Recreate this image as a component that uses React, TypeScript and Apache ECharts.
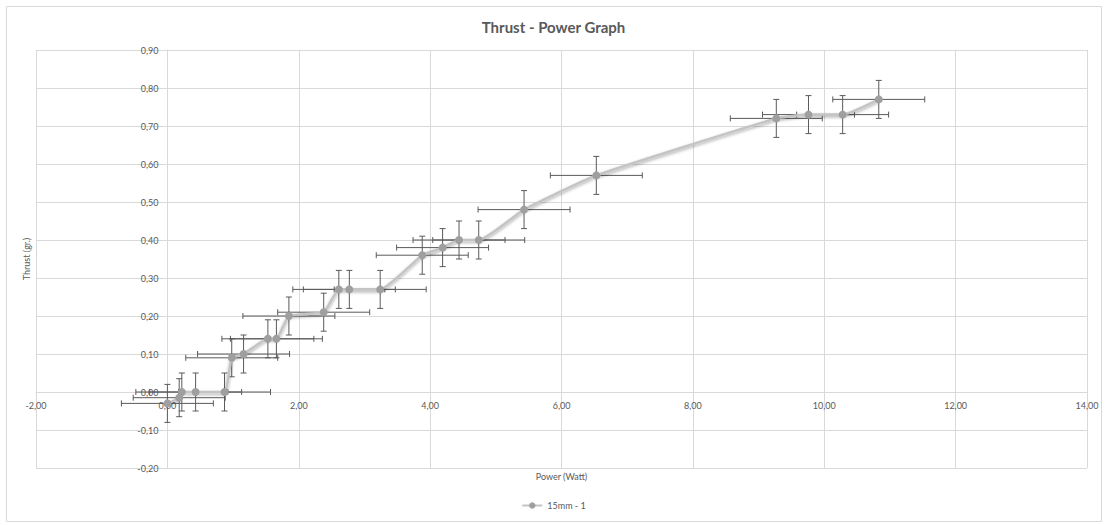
import React, { useEffect, useRef } from "react";
import * as echarts from "echarts";

const seriesName = "15mm - 1";
const powerWatt = [0.0, 0.18, 0.22, 0.43, 0.87, 0.98, 1.16, 1.53, 1.66, 1.85, 2.38, 2.61, 2.77, 3.24, 3.88, 4.19, 4.44, 4.74, 5.43, 6.53, 9.27, 9.76, 10.28, 10.83];
const thrustGr = [-0.03, -0.015, 0.0, 0.0, 0.0, 0.09, 0.1, 0.14, 0.14, 0.2, 0.21, 0.27, 0.27, 0.27, 0.36, 0.38, 0.4, 0.4, 0.48, 0.57, 0.72, 0.73, 0.73, 0.77];
const powerError = 0.7;
const thrustError = 0.05;

const fmt = (v: number) => v.toFixed(2).replace(".", ",");
const FONT = "Lato, 'Open Sans', sans-serif";
const GRID = { left: 36, right: 20, top: 50, bottom: 57 };

export default function App() {
  const ref = useRef<HTMLDivElement>(null);
  useEffect(() => {
    document.body.style.margin = "0";
    const chart = echarts.init(ref.current!, null, { renderer: "svg" });
    const points = powerWatt.map((x, i) => [x, thrustGr[i]]);
    const errData = powerWatt.map((x, i) => [x, thrustGr[i], powerError, thrustError]);
    const cap = 3;
    chart.setOption({
      animation: false,
      backgroundColor: "#fff",
      textStyle: { fontFamily: FONT },
      title: {
        text: "Thrust - Power Graph",
        left: "center",
        top: 14,
        textStyle: { fontFamily: FONT, fontSize: 15, fontWeight: "bold", color: "#595959" },
      },
      graphic: [
        {
          type: "rect",
          shape: { x: 6.5, y: 6.5, width: 1095, height: 515 },
          style: { fill: "none", stroke: "#d9d9d9", lineWidth: 1 },
          silent: true,
        },
      ],
      legend: {
        data: [seriesName],
        bottom: 10,
        left: "center",
        itemWidth: 20,
        itemHeight: 8,
        textStyle: { fontFamily: FONT, fontSize: 9, color: "#595959" },
      },
      grid: { ...GRID, containLabel: false, outerBoundsMode: "none" },
      xAxis: {
        type: "value",
        min: -2,
        max: 14,
        interval: 2,
        position: "bottom",
        offset: 0,
        name: "Power (Watt)",
        nameLocation: "middle",
        nameGap: 80,
        nameTextStyle: { fontFamily: FONT, fontSize: 9, color: "#595959" },
        axisLine: { show: true, onZero: false, lineStyle: { color: "#d9d9d9" } },
        axisTick: { show: false },
        axisLabel: { formatter: fmt, fontSize: 9, color: "#595959", margin: 9, fontFamily: FONT },
        splitLine: { show: true, lineStyle: { color: "#d9d9d9", width: 1 } },
      },
      yAxis: {
        type: "value",
        min: -0.2,
        max: 0.9,
        interval: 0.1,
        position: "left",
        offset: 0,
        name: "Thrust (gr.)",
        nameLocation: "middle",
        nameGap: 136,
        nameRotate: 90,
        nameTextStyle: { fontFamily: FONT, fontSize: 9, color: "#595959" },
        axisLine: { show: true, onZero: false, lineStyle: { color: "#d9d9d9" } },
        axisTick: { show: false },
        axisLabel: { formatter: fmt, fontSize: 9, color: "#595959", margin: 9, fontFamily: FONT },
        splitLine: { show: true, lineStyle: { color: "#d9d9d9", width: 1 } },
      },
      series: [
        {
          type: "custom",
          name: "errors",
          data: errData,
          z: 2,
          silent: true,
          encode: { x: 0, y: 1 },
          renderItem: (params: any, api: any) => {
            const x = api.value(0);
            const y = api.value(1);
            const ex = api.value(2);
            const ey = api.value(3);
            const l = api.coord([x - ex, y]);
            const r = api.coord([x + ex, y]);
            const t = api.coord([x, y + ey]);
            const b = api.coord([x, y - ey]);
            const style = { stroke: "#5a5a5a", lineWidth: 1 };
            return {
              type: "group",
              children: [
                { type: "line", shape: { x1: l[0], y1: l[1], x2: r[0], y2: r[1] }, style },
                { type: "line", shape: { x1: l[0], y1: l[1] - cap, x2: l[0], y2: l[1] + cap }, style },
                { type: "line", shape: { x1: r[0], y1: r[1] - cap, x2: r[0], y2: r[1] + cap }, style },
                { type: "line", shape: { x1: t[0], y1: t[1], x2: b[0], y2: b[1] }, style },
                { type: "line", shape: { x1: t[0] - cap, y1: t[1], x2: t[0] + cap, y2: t[1] }, style },
                { type: "line", shape: { x1: b[0] - cap, y1: b[1], x2: b[0] + cap, y2: b[1] }, style },
              ],
            };
          },
        },
        {
          type: "line",
          name: seriesName,
          data: points,
          z: 3,
          smooth: 0.15,
          symbol: "circle",
          symbolSize: 8,
          lineStyle: {
            color: "#c4c4c4",
            width: 2.5,
            shadowColor: "rgba(0,0,0,0.35)",
            shadowBlur: 3,
            shadowOffsetY: 1.5,
          },
          itemStyle: { color: "#9f9f9f", borderColor: "#9f9f9f", borderWidth: 0 },
        },
      ],
    });
    // Place axes where the other axis is zero (Excel-style crossing)
    const origin = chart.convertToPixel({ gridIndex: 0 }, [0, 0]) as number[];
    const h = chart.getHeight();
    const bottomEdge = h - GRID.bottom;
    const leftEdge = GRID.left;
    chart.setOption({
      xAxis: { offset: -(bottomEdge - origin[1]) },
      yAxis: { offset: -(origin[0] - leftEdge) },
    });
    return () => chart.dispose();
  }, []);
  return <div ref={ref} style={{ width: 1107, height: 525 }} />;
}
